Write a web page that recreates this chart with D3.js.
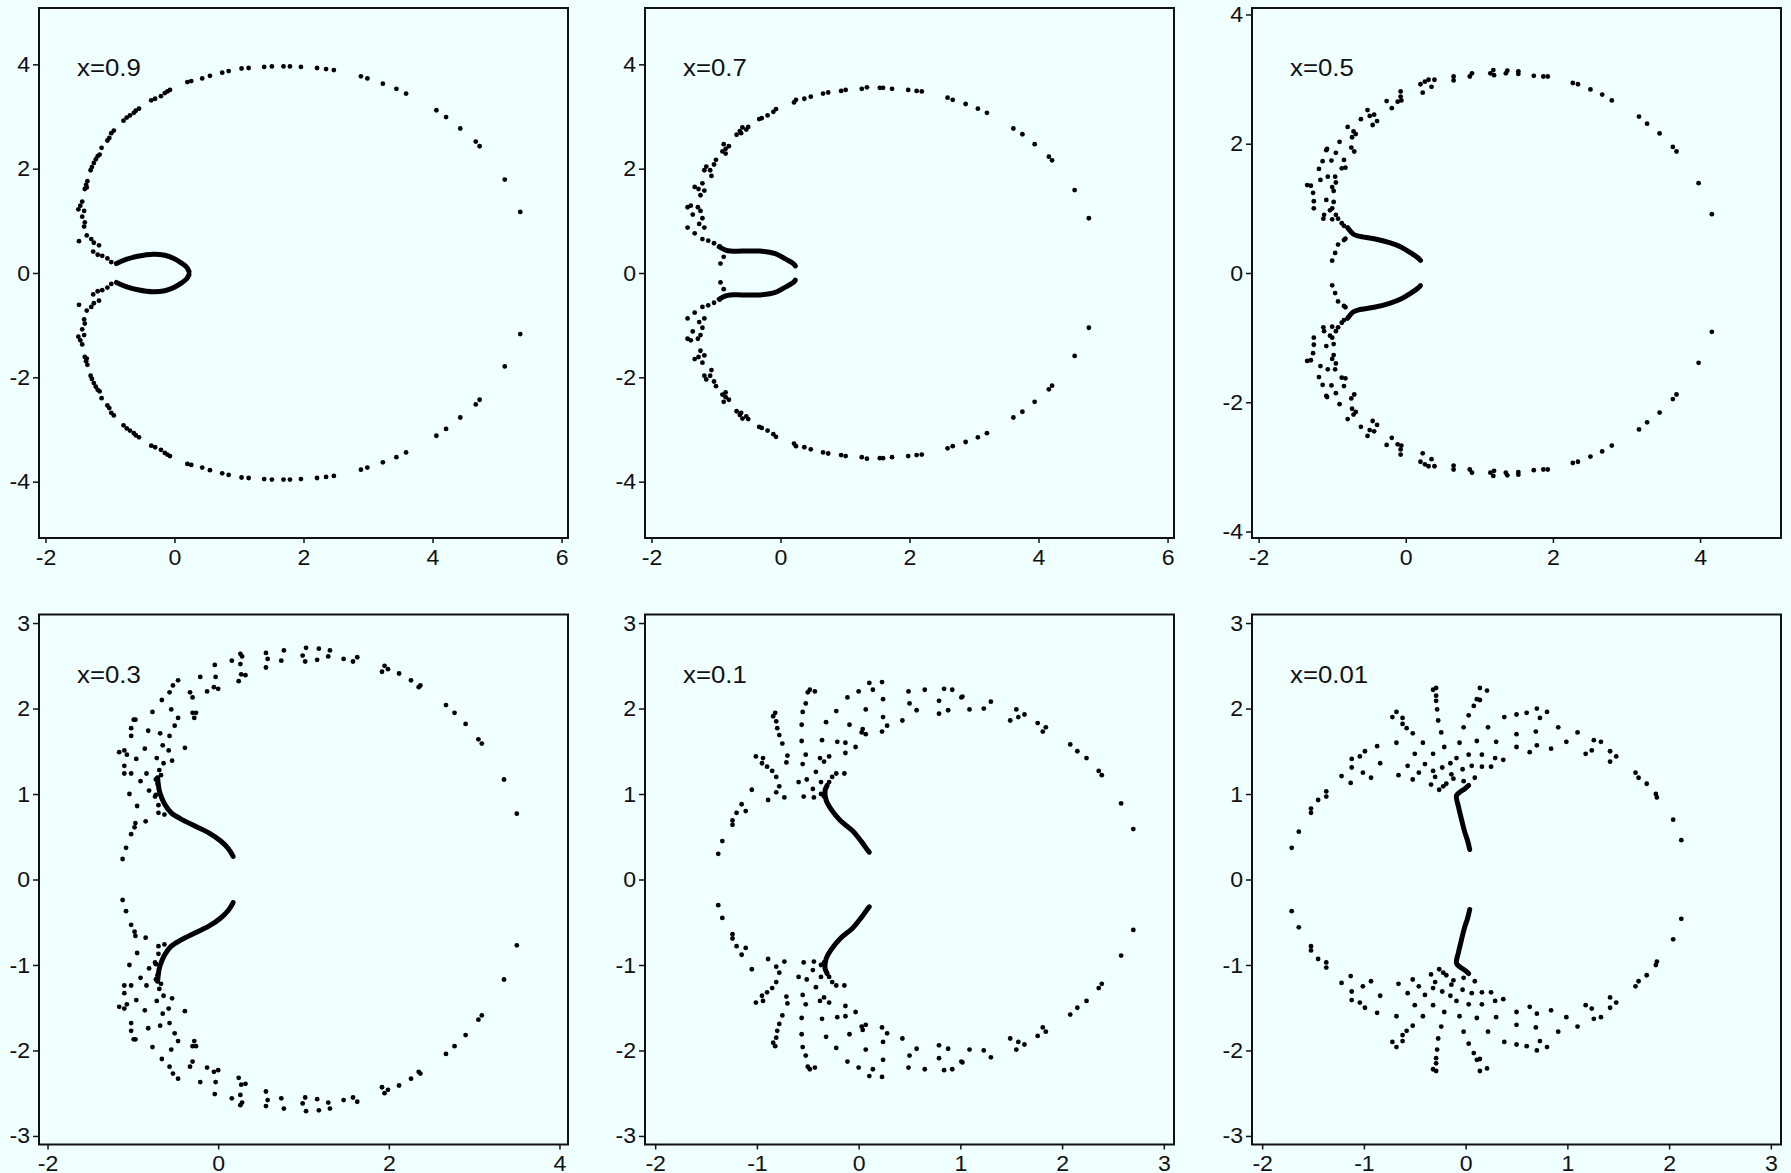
<!DOCTYPE html>
<html>
<head>
<meta charset="utf-8">
<script src="https://cdn.jsdelivr.net/npm/d3@7"></script>
<style>
  body { margin: 0; background: #f0ffff; }
  .tick text { font-family: "Liberation Sans", Arial, Helvetica, sans-serif; font-size: 22px; fill: #111; }
  .tick line { stroke: #111; stroke-width: 1.5; }
  .lab { font-family: "Liberation Sans", Arial, Helvetica, sans-serif; font-size: 23px; fill: #111; }
</style>
</head>
<body>
<script>
// panel labels
const labels = ["x=0.9", "x=0.7", "x=0.5", "x=0.3", "x=0.1", "x=0.01"];

// axis ranges and ticks, one entry per panel
const xDomains = [[-2.1, 6.1], [-2.1, 6.1], [-2.09, 5.1], [-2.1, 4.1], [-2.1, 3.1], [-2.1, 3.1]];
const yDomains = [[-5.08, 5.08], [-5.08, 5.08], [-4.1, 4.1], [-3.1, 3.1], [-3.1, 3.1], [-3.1, 3.1]];
const xTicks = [[-2, 0, 2, 4, 6], [-2, 0, 2, 4, 6], [-2, 0, 2, 4], [-2, 0, 2, 4], [-2, -1, 0, 1, 2, 3], [-2, -1, 0, 1, 2, 3]];
const yTicks = [[-4, -2, 0, 2, 4], [-4, -2, 0, 2, 4], [-4, -2, 0, 2, 4], [-3, -2, -1, 0, 1, 2, 3], [-3, -2, -1, 0, 1, 2, 3], [-3, -2, -1, 0, 1, 2, 3]];

// upper half of each root set (roots come in conjugate pairs)
const ring09 = [[0.20,3.66],[0.26,3.68],[0.43,3.73],[0.55,3.78],[0.74,3.84],[0.84,3.87],[1.04,3.92],[1.15,3.93],[1.39,3.95],[1.51,3.96],[1.69,3.96],[1.79,3.96],[1.96,3.95],[2.21,3.93],[2.35,3.91],[2.47,3.89],[2.89,3.77],[2.99,3.73],[3.23,3.63],[3.44,3.53],[3.59,3.44],[4.06,3.12],[4.21,2.99],[4.43,2.77],[4.67,2.52],[4.73,2.43],[5.12,1.79],[5.36,1.17],
  [-0.07,3.51],[-0.11,3.48],[-0.15,3.45],[-0.21,3.39],[-0.30,3.34],[-0.36,3.31],[-0.55,3.15],[-0.60,3.11],[-0.63,3.07],[-0.69,3.02],[-0.74,2.98],[-0.79,2.92],[-0.94,2.73],[-0.98,2.68],[-1.01,2.59],[-1.04,2.54],[-1.13,2.40],[-1.16,2.27],[-1.19,2.24],[-1.22,2.18],[-1.25,2.11],[-1.28,2.03],[-1.30,1.97],[-1.35,1.76],[-1.37,1.69],[-1.36,1.64],[-1.39,1.61],[-1.43,1.37],[-1.46,1.29],[-1.49,1.22],[-1.40,1.19],[-1.43,1.08],[-1.39,0.97],[-1.40,0.89],[-1.48,0.61],[-1.36,0.72],[-1.29,0.65],[-1.25,0.58],[-1.17,0.53],[-1.26,0.41],[-1.19,0.35],[-1.12,0.33],[-1.04,0.28],[-0.98,0.21]];
const curve09 = [[-0.90,0.18],[-0.75,0.26],[-0.57,0.32],[-0.33,0.36],[-0.15,0.34],[-0.01,0.28],[0.11,0.19],[0.19,0.11],[0.225,0.03]];

const ring07 = [[0.21,3.27],[0.24,3.32],[0.37,3.34],[0.47,3.38],[0.66,3.44],[0.74,3.46],[0.94,3.49],[1.01,3.51],[1.26,3.53],[1.34,3.56],[1.54,3.55],[1.59,3.55],[1.73,3.53],[1.98,3.51],[2.11,3.49],[2.19,3.48],[2.59,3.36],[2.67,3.32],[2.87,3.24],[3.06,3.15],[3.20,3.07],[3.61,2.77],[3.75,2.66],[3.94,2.47],[4.16,2.23],[4.21,2.16],[4.56,1.59],[4.78,1.05],
  [-0.07,3.14],[-0.11,3.09],[-0.20,3.02],[-0.29,2.97],[-0.33,2.95],[-0.50,2.80],[-0.53,2.75],[-0.59,2.79],[-0.63,2.72],[-0.68,2.65],[-0.61,2.68],[-0.80,2.43],[-0.85,2.38],[-0.88,2.47],[-0.90,2.33],[-0.85,2.29],[-1.00,2.17],[-1.03,2.08],[-1.09,1.97],[-1.15,2.04],[-1.18,1.97],[-1.07,1.86],[-1.21,1.72],[-1.18,1.58],[-1.27,1.61],[-1.33,1.65],[-1.24,1.49],[-1.39,1.29],[-1.44,1.26],[-1.28,1.26],[-1.24,1.19],[-1.36,1.12],[-1.21,1.05],[-1.44,0.87],[-1.26,0.94],[-1.18,0.87],[-1.33,0.76],[-1.21,0.65],[-1.12,0.62],[-1.03,0.57],[-0.94,0.51],[-0.88,0.31],[-0.93,0.18]];
const curve07 = [[-0.95,0.50],[-0.85,0.44],[-0.78,0.42],[-0.60,0.42],[-0.32,0.42],[-0.08,0.37],[0.09,0.26],[0.20,0.18],[0.23,0.135]];

const ring05 = [[0.20,2.92],[0.26,2.96],[0.31,2.99],[0.23,2.79],[0.39,2.99],[0.35,2.88],[0.65,3.04],[0.65,2.98],[0.87,3.04],[0.90,3.09],[1.15,3.09],[1.19,3.14],[1.20,3.06],[1.36,3.09],[1.38,3.13],[1.53,3.12],[1.53,3.08],[1.74,3.05],[1.87,3.04],[1.93,3.04],[2.27,2.94],[2.34,2.92],[2.51,2.84],[2.67,2.76],[2.80,2.67],[3.17,2.42],[3.28,2.31],[3.45,2.16],[3.63,1.95],[3.68,1.88],[3.98,1.39],[4.16,0.91],
  [-0.07,2.81],[-0.07,2.73],[-0.11,2.65],[-0.06,2.67],[-0.19,2.55],[-0.26,2.66],[-0.52,2.52],[-0.49,2.43],[-0.43,2.45],[-0.39,2.35],[-0.45,2.29],[-0.61,2.38],[-0.79,2.26],[-0.71,2.19],[-0.68,2.15],[-0.73,2.10],[-0.70,1.88],[-0.74,1.94],[-0.90,2.03],[-1.08,1.90],[-1.07,1.92],[-0.95,1.86],[-1.13,1.73],[-1.01,1.74],[-0.84,1.75],[-0.87,1.62],[-0.82,1.63],[-1.18,1.61],[-1.16,1.44],[-1.06,1.49],[-0.96,1.49],[-0.95,1.40],[-1.00,1.33],[-0.98,1.27],[-1.34,1.36],[-1.29,1.35],[-1.26,1.24],[-1.25,1.11],[-1.08,1.13],[-0.98,1.10],[-1.00,1.00],[-1.25,1.00],[-1.11,0.90],[-1.03,0.97],[-0.95,0.90],[-0.92,0.84],[-1.12,0.84],[-1.00,0.83],[-0.87,0.77],[-0.84,0.73],[-0.82,0.53],[-0.84,0.51],[-0.92,0.44],[-0.96,0.31],[-1.00,0.19]];
const curve05 = [[-0.79,0.70],[-0.71,0.60],[-0.64,0.57],[-0.43,0.53],[-0.22,0.47],[-0.06,0.40],[0.07,0.31],[0.16,0.24],[0.20,0.195]];

const ring03 = [[-0.04,2.51],[-0.03,2.37],[0.00,2.23],[-0.05,2.25],[0.16,2.56],[0.26,2.64],[0.28,2.61],[0.26,2.52],[0.27,2.40],[0.32,2.39],[0.24,2.32],[0.56,2.65],[0.58,2.58],[0.56,2.48],[0.74,2.56],[0.77,2.68],[0.99,2.62],[1.02,2.55],[1.03,2.71],[1.16,2.57],[1.18,2.70],[1.29,2.61],[1.31,2.68],[1.47,2.58],[1.58,2.55],[1.63,2.60],[1.92,2.43],[1.95,2.50],[1.99,2.46],[2.12,2.41],[2.26,2.33],[2.35,2.25],[2.37,2.27],[2.67,2.04],[2.77,1.95],[2.90,1.82],[3.05,1.64],[3.09,1.59],[3.35,1.17],[3.50,0.77],
  [-0.21,2.37],[-0.13,2.20],[-0.30,2.13],[-0.33,2.19],[-0.47,2.33],[-0.53,2.27],[-0.57,2.19],[-0.30,1.95],[-0.26,1.95],[-0.28,1.89],[-0.47,1.89],[-0.51,1.80],[-0.55,1.99],[-0.66,2.10],[-0.77,1.96],[-0.99,1.87],[-0.97,1.87],[-1.02,1.77],[-1.02,1.68],[-0.82,1.74],[-0.68,1.71],[-0.57,1.68],[-0.65,1.57],[-0.58,1.51],[-0.54,1.39],[-0.64,1.36],[-0.39,1.54],[-1.16,1.49],[-1.10,1.51],[-1.07,1.46],[-0.96,1.41],[-0.86,1.53],[-1.10,1.33],[-1.02,1.24],[-1.10,1.24],[-0.84,1.24],[-0.72,1.42],[-0.69,1.28],[-0.67,1.22],[-0.91,1.15],[-0.81,1.04],[-1.04,1.00],[-0.95,0.86],[-0.97,0.66],[-0.98,0.61],[-1.02,0.53],[-0.85,0.68],[-1.08,0.37],[-1.12,0.24],[-0.73,1.17],[-0.71,1.12],[-0.73,0.99],[-0.70,0.87],[-0.70,0.78],[-0.63,0.76],[-0.74,0.97]];
const curve03 = [[-0.71,1.19],[-0.69,1.04],[-0.66,0.95],[-0.62,0.87],[-0.55,0.78],[-0.44,0.71],[-0.26,0.62],[-0.10,0.54],[0.03,0.45],[0.12,0.36],[0.175,0.27]];

const ring01 = [[0.105,2.30],[0.23,2.31],[0.14,2.22],[0.24,2.11],[0.00,2.20],[0.07,1.99],[0.04,1.76],[0.03,1.72],[-0.03,1.55],[0.24,1.90],[0.28,1.80],[0.23,1.73],[0.43,1.86],[0.49,2.20],[0.50,2.06],[0.57,1.98],[0.65,2.22],[0.79,2.09],[0.84,2.23],[0.79,1.94],[0.88,1.98],[0.92,2.22],[1.01,2.13],[1.02,2.14],[1.09,1.99],[1.23,2.00],[1.30,2.08],[1.49,1.86],[1.55,1.99],[1.57,1.90],[1.63,1.93],[1.76,1.83],[1.81,1.73],[1.84,1.78],[2.08,1.58],[2.15,1.50],[2.24,1.42],[2.36,1.27],[2.39,1.22],[2.58,0.89],[2.70,0.59],
  [-1.38,0.30],[-1.34,0.45],[-1.24,0.64],[-1.24,0.69],[-1.20,0.78],[-1.15,0.88],[-1.11,0.80],[-1.05,1.05],[-1.01,1.44],[-0.95,1.36],[-0.94,1.42],[-0.90,1.32],[-0.85,1.27],[-0.81,1.20],[-0.81,1.02],[-0.89,0.93],[-0.73,0.96],[-0.78,1.09],[-0.70,1.45],[-0.71,1.37],[-0.84,1.91],[-0.82,1.95],[-0.81,1.85],[-0.80,1.77],[-0.78,1.69],[-0.75,1.59],[-0.59,1.14],[-0.56,1.62],[-0.55,1.35],[-0.54,0.97],[-0.52,1.46],[-0.51,1.17],[-0.50,2.19],[-0.48,2.22],[-0.52,2.06],[-0.55,1.96],[-0.56,1.81],[-0.45,1.06],[-0.43,2.20],[-0.44,0.96],[-0.42,1.26],[-0.38,1.42],[-0.36,1.63],[-0.34,1.38],[-0.37,1.14],[-0.37,1.00],[-0.34,0.97],[-0.32,1.84],[-0.29,1.44],[-0.26,1.20],[-0.22,1.24],[-0.22,1.97],[-0.21,1.61],[-0.13,1.60],[-0.13,1.48],[-0.14,1.24],[-0.09,1.81],[-0.11,2.13],[0.07,1.70],[-0.29,1.14]];
const curve01 = [[-0.31,1.10],[-0.33,1.04],[-0.32,0.93],[-0.27,0.82],[-0.18,0.69],[-0.06,0.57],[0.03,0.44],[0.09,0.34],[0.105,0.32]];

const ring001 = [[-1.71,0.37],[-1.64,0.56],[-1.52,0.83],[-1.52,0.78],[-1.45,0.93],[-1.37,1.03],[-1.37,0.97],[-1.22,1.21],[-1.13,1.13],[-1.12,1.31],[-1.12,1.41],[-1.01,1.25],[-1.04,1.44],[-0.99,1.50],[-0.93,1.19],[-0.87,1.56],[-0.84,1.36],
  [-0.72,1.90],[-0.68,1.96],[-0.62,1.89],[-0.62,1.82],[-0.58,1.77],[-0.52,1.71],[-0.68,1.60],[-0.66,1.22],[-0.57,1.33],[-0.52,1.17],[-0.50,1.47],[-0.46,1.25],[-0.42,1.60],[-0.40,1.35],[-0.34,1.11],[-0.32,1.47],[-0.32,1.27],[-0.30,1.20],
  [-0.32,2.22],[-0.29,2.24],[-0.29,2.15],[-0.29,2.09],[-0.28,1.99],[-0.27,1.86],[-0.24,1.72],[-0.21,1.55],[-0.26,1.05],[-0.22,1.09],[-0.19,1.12],[-0.23,1.31],[-0.15,1.36],[-0.14,1.23],[-0.12,1.18],[-0.09,1.42],[-0.06,1.60],[-0.03,1.29],[-0.02,1.78],[-0.02,1.15],[0.03,1.46],[0.03,1.92],[0.06,1.33],[0.08,2.03],[0.09,1.19],[0.11,2.11],[0.14,2.24],[0.14,2.10],[0.21,2.21],[0.11,1.62],[0.16,1.46],[0.16,1.32],[0.22,1.78],[0.25,1.32],[0.29,1.42],[0.30,1.61],[0.37,1.40],[0.38,1.90],
  [0.50,1.93],[0.50,1.70],[0.50,1.55],[0.60,1.95],[0.63,1.49],[0.69,1.73],[0.70,2.00],[0.70,1.57],[0.73,1.89],[0.80,1.96],[0.84,1.53],[0.91,1.78],[0.99,1.61],[1.10,1.72],[1.18,1.47],[1.24,1.51],[1.26,1.63],[1.33,1.61],[1.42,1.50],[1.42,1.38],[1.48,1.44],[1.67,1.25],[1.70,1.19],[1.78,1.12],[1.87,1.00],[1.88,0.96],[2.04,0.70],[2.12,0.46]];
const curve001 = [[0.03,1.10],[-0.01,1.06],[-0.06,1.02],[-0.09,0.98],[-0.07,0.85],[-0.04,0.70],[-0.01,0.56],[0.02,0.45],[0.04,0.35]];

const rings = [ring09, ring07, ring05, ring03, ring01, ring001];
const curves = [curve09, curve07, curve05, curve03, curve01, curve001];

const W = 1791, H = 1173;
const colLeft = [39, 645, 1252];
const rowTop = [8, 614.5];
const pw = 529, ph = 530;

const svg = d3.select(document.body).append('svg')
  .attr('width', W)
  .attr('height', H)
  .style('display', 'block');

svg.append('rect').attr('width', W).attr('height', H).attr('fill', '#f0ffff');

const mirror = pts => pts.map(d => [d[0], -d[1]]);

// the original glyphs run a little wider than Liberation Sans
function widen(sel, k) {
  sel.each(function() {
    const w = this.getComputedTextLength();
    d3.select(this).attr('textLength', w * k).attr('lengthAdjust', 'spacingAndGlyphs');
  });
}

labels.forEach((lab, i) => {
  const g = svg.append('g')
    .attr('transform', `translate(${colLeft[i % 3]},${rowTop[Math.floor(i / 3)]})`);

  const x = d3.scaleLinear().domain(xDomains[i]).range([0, pw]);
  const y = d3.scaleLinear().domain(yDomains[i]).range([ph, 0]);

  const xAxis = g.append('g')
    .attr('transform', `translate(0,${ph})`)
    .call(d3.axisBottom(x).tickValues(xTicks[i]).tickSize(5).tickPadding(6).tickFormat(d3.format('d')));
  xAxis.select('.domain').remove();

  const yAxis = g.append('g')
    .call(d3.axisLeft(y).tickValues(yTicks[i]).tickSize(6).tickPadding(3).tickFormat(d3.format('d')));
  yAxis.select('.domain').remove();

  g.selectAll('.tick text').text(d => d < 0 ? '-' + Math.abs(d) : d);
  widen(g.selectAll('.tick text'), 1.05);

  const pts = rings[i].concat(mirror(rings[i]));
  g.selectAll('circle')
    .data(pts)
    .enter().append('circle')
    .attr('cx', d => x(d[0]))
    .attr('cy', d => y(d[1]))
    .attr('r', 2.4)
    .attr('fill', '#000');

  const line = d3.line()
    .x(d => x(d[0]))
    .y(d => y(d[1]))
    .curve(d3.curveCatmullRom);

  [curves[i], mirror(curves[i])].forEach(c => {
    g.append('path')
      .attr('d', line(c))
      .attr('fill', 'none')
      .attr('stroke', '#000')
      .attr('stroke-width', 5)
      .attr('stroke-linecap', 'round');
  });

  g.append('rect')
    .attr('width', pw)
    .attr('height', ph)
    .attr('fill', 'none')
    .attr('stroke', '#111')
    .attr('stroke-width', 2);

  const t = g.append('text')
    .attr('class', 'lab')
    .attr('x', 38)
    .attr('y', 68)
    .text(lab);
  widen(t, 1.12);
});
</script>
</body>
</html>
